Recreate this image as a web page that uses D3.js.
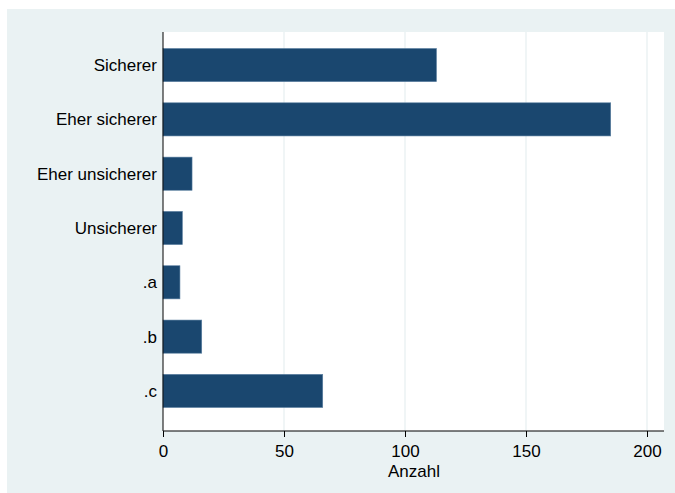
<!DOCTYPE html>
<html><head><meta charset="utf-8">
<script src="https://cdn.jsdelivr.net/npm/d3@7"></script>
<style>body{margin:0;background:#fff}svg{display:block;font-family:"Liberation Sans",Arial,sans-serif}</style>
</head><body>
<script>
const categories = ["Sicherer","Eher sicherer","Eher unsicherer","Unsicherer",".a",".b",".c"];
const counts = [113,185,12,8,7,16,66];
const xTicks = [0,50,100,150,200];
const xTitle = "Anzahl";

const W=675,H=493;
const FS=17;
const svg=d3.select("body").append("svg").attr("width",W).attr("height",H);
svg.append("rect").attr("x",7).attr("y",9).attr("width",W-7).attr("height",H-9).attr("fill","#eaf2f3");
const L=163,R=664,T=32,B=431;
svg.append("rect").attr("x",L).attr("y",T).attr("width",R-L).attr("height",B-T).attr("fill","#fff");
const x=d3.scaleLinear().domain([0,200]).range([L,647]);
const y=d3.scaleBand().domain(categories).range([48.5,407.5]).paddingInner(0.39).paddingOuter(0);
// gridlines
svg.append("g").selectAll("line").data(xTicks.filter(d=>d>0)).join("line")
 .attr("x1",d=>x(d)).attr("x2",d=>x(d)).attr("y1",T).attr("y2",B)
 .attr("stroke","#e6eef0").attr("stroke-width",1.2);
// bars
svg.append("g").selectAll("rect").data(categories).join("rect")
 .attr("x",x(0)).attr("y",d=>y(d)).attr("height",y.bandwidth())
 .attr("width",(d,i)=>x(counts[i])-x(0))
 .attr("fill","#1a476f").attr("stroke","#5a7fa0").attr("stroke-width",0.6);
// x axis
const xa=svg.append("g").attr("transform",`translate(0,${B})`)
 .call(d3.axisBottom(x).tickValues(xTicks).tickSize(6).tickPadding(8).tickSizeOuter(0));
xa.select(".domain").attr("d",`M${L},0H${R}`).attr("stroke","#000");
xa.selectAll("text").attr("font-size",FS).attr("fill","#000").attr("font-family","Liberation Sans, Arial, sans-serif");
svg.append("text").attr("x",(x(0)+x(200))/2+9).attr("y",476.5).attr("text-anchor","middle")
 .attr("font-size",FS).text(xTitle);
// y axis
svg.append("line").attr("x1",L).attr("x2",L).attr("y1",T).attr("y2",B).attr("stroke","#000");
svg.append("g").selectAll("text").data(categories).join("text")
 .attr("x",157).attr("y",d=>y(d)+y.bandwidth()/2).attr("dy","0.35em")
 .attr("text-anchor","end").attr("font-size",FS).text(d=>d);
</script>
</body></html>
